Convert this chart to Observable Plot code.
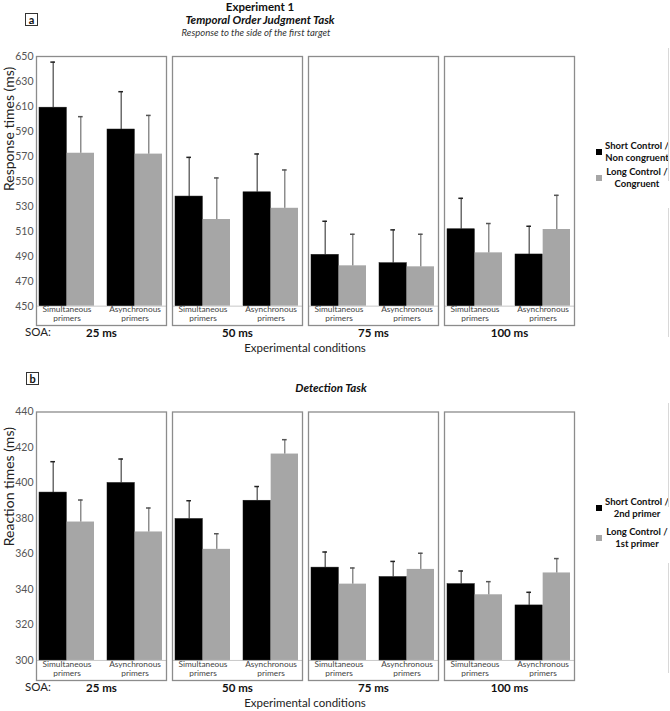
<!DOCTYPE html>
<html><head><meta charset="utf-8">
<script src="https://cdn.jsdelivr.net/npm/d3@7"></script>
<script src="https://cdn.jsdelivr.net/npm/@observablehq/plot@0.6"></script>
<style>
body{margin:0;background:#fff;font-family:Lato,"Open Sans",sans-serif;}
#root{position:relative;width:670px;height:711px;overflow:hidden;background:#fff;}
.abs{position:absolute;white-space:nowrap;color:#111;line-height:1;}
.c{transform:translate(-50%,-50%);}
.box{position:absolute;border:1px solid #333;width:11px;height:11px;font-size:11px;line-height:11px;text-align:center;font-weight:bold;color:#111;}
.leg{position:absolute;font-size:9.5px;font-weight:bold;line-height:11.5px;text-align:center;color:#111;}
.sw{position:absolute;width:6px;height:6px;}
.vline{position:absolute;width:1px;background:#d8d8d8;left:668px;}
</style></head><body><div id="root"></div>
<script>
const soas = ["25 ms", "50 ms", "75 ms", "100 ms"];
const primers = ["Simultaneous", "Asynchronous"];
const primerLine1 = ["Simultaneous", "Asynchronous"];
const primerLine2 = ["primers", "primers"];

// Panel a – Temporal Order Judgment (order: per SOA, simultaneous then asynchronous)
const tojShort   = [609.0, 591.5, 537.8, 541.2, 491.1, 484.4, 511.6, 491.4];
const tojShortSE = [36.5, 30.3, 31.4, 30.7, 26.9, 26.7, 24.8, 22.6];
const tojLong    = [572.5, 571.8, 519.4, 528.4, 482.3, 481.5, 492.7, 511.4];
const tojLongSE  = [29.3, 31.0, 33.3, 30.7, 25.3, 26.1, 23.5, 27.4];
const tojTicks = [450, 470, 490, 510, 530, 550, 570, 590, 610, 630, 650];

// Panel b – Detection
const detShort   = [394.6, 400.0, 379.7, 390.0, 352.3, 347.0, 343.0, 331.0];
const detShortSE = [17.4, 13.5, 10.3, 8.0, 8.8, 8.8, 7.4, 7.4];
const detLong    = [378.0, 372.4, 362.6, 416.3, 343.0, 351.3, 337.0, 349.3];
const detLongSE  = [12.4, 13.5, 8.8, 8.1, 9.1, 9.1, 7.4, 8.1];
const detTicks = [300, 320, 340, 360, 380, 400, 420, 440];

const BLACK = "#000000", GRAY = "#a6a6a6";

function rowsOf(means, ses) {
  return means.map((m, i) => ({soa: soas[Math.floor(i / 2)], primer: primers[i % 2], mean: m, top: m + ses[i]}));
}

function panel(o) {
  const sRows = rowsOf(o.short, o.shortSE);
  const lRows = rowsOf(o.long, o.longSE);
  const W = 670, mL = 36, mR = 95;
  const fxPadIn = 0.042, xPadIn = 0.19, xPadOut = 0.05;
  const facetW = (W - mL - mR) / (soas.length - fxPadIn) * (1 - fxPadIn);
  const bw = facetW / (2 - xPadIn + 2 * xPadOut) * (1 - xPadIn);
  const cap = 5;
  const base = o.ticks[0];
  const pos = {fx: "soa", x: "primer"};
  const lbl = {frameAnchor: "bottom", textAnchor: "middle", fontSize: 8.3, fill: "#444"};
  return Plot.plot({
    width: W, height: o.height,
    marginLeft: mL, marginRight: mR, marginTop: o.marginTop, marginBottom: 20,
    style: {fontFamily: "Lato, 'Open Sans', sans-serif", background: "transparent"},
    fx: {domain: soas, paddingInner: fxPadIn, paddingOuter: 0, label: null},
    x: {domain: primers, paddingInner: xPadIn, paddingOuter: xPadOut, axis: null},
    y: {domain: [o.yBottom, o.ticks[o.ticks.length - 1]], axis: null},
    marks: [
      Plot.ruleY([base], {stroke: "#c8c8c8", strokeWidth: 1}),
      Plot.barY(sRows, {...pos, y1: base, y2: "mean", fill: BLACK, stroke: "#111", strokeWidth: 0.5, insetRight: bw / 2}),
      Plot.barY(lRows, {...pos, y1: base, y2: "mean", fill: GRAY, insetLeft: bw / 2}),
      Plot.ruleX(sRows, {...pos, y1: "mean", y2: "top", dx: -bw / 4, stroke: "#222", strokeWidth: 1}),
      Plot.tickY(sRows, {...pos, y: "top", insetLeft: bw / 4 - cap / 2, insetRight: 3 * bw / 4 - cap / 2, stroke: "#222", strokeWidth: 1.5}),
      Plot.ruleX(lRows, {...pos, y1: "mean", y2: "top", dx: bw / 4, stroke: "#555", strokeWidth: 1}),
      Plot.tickY(lRows, {...pos, y: "top", insetLeft: 3 * bw / 4 - cap / 2, insetRight: bw / 4 - cap / 2, stroke: "#555", strokeWidth: 1.5}),
      Plot.frame({stroke: "#8c8c8c", strokeWidth: 1.3}),
      Plot.text(primerLine1, {x: (d, i) => primers[i], text: d => d, ...lbl, dy: -13.8}),
      Plot.text(primerLine2, {x: (d, i) => primers[i], text: d => d, ...lbl, dy: -4.6}),
      Plot.axisY({ticks: o.ticks, tickSize: 0, tickPadding: 3, fontSize: 10.5, fill: "#555", label: null}),
      Plot.text([o.yLabel], {fx: () => soas[0], text: d => d, frameAnchor: "left", rotate: -90, dx: -27, fontSize: 14, fill: "#222"}),
      Plot.axisFx({anchor: "bottom", tickSize: 0, tickPadding: 3, fontSize: 11.5, fontWeight: "bold", fill: "#111", label: null})
    ]
  });
}

const root = document.getElementById("root");
function addText(html, cx, cy, style) {
  const d = document.createElement("div");
  d.className = "abs c";
  d.style.left = cx + "px"; d.style.top = cy + "px";
  Object.assign(d.style, style || {});
  d.innerHTML = html;
  root.appendChild(d);
  return d;
}
function addBox(ch, left, top) {
  const d = document.createElement("div");
  d.className = "box"; d.style.left = left + "px"; d.style.top = top + "px";
  d.textContent = ch; root.appendChild(d);
}
function addLegend(items) {
  items.forEach((it) => {
    const sw = document.createElement("div");
    sw.className = "sw"; sw.style.background = it.color;
    sw.style.left = "596px"; sw.style.top = (it.cy - 3) + "px";
    root.appendChild(sw);
    const t = document.createElement("div");
    t.className = "leg"; t.style.left = "605px"; t.style.width = "64px";
    t.style.top = (it.cy - 12) + "px";
    t.innerHTML = it.label;
    root.appendChild(t);
  });
}
function addVLine(top, bottom) {
  const d = document.createElement("div");
  d.className = "vline"; d.style.top = top + "px"; d.style.height = (bottom - top) + "px";
  root.appendChild(d);
}

// ---- Panel a ----
const svgA = panel({short: tojShort, shortSE: tojShortSE, long: tojLong, longSE: tojLongSE,
  ticks: tojTicks, yBottom: 434.5, yLabel: "Response times (ms)", marginTop: 56, height: 345});
svgA.style.position = "absolute"; svgA.style.left = "0px"; svgA.style.top = "0px";
root.appendChild(svgA);

addBox("a", 25, 13);
addText("Experiment 1", 260, 6.5, {fontSize: "11.5px", fontWeight: "bold"});
addText("Temporal Order Judgment Task", 260, 20, {fontSize: "11.5px", fontWeight: "bold", fontStyle: "italic"});
addText("Response to the side of the first target", 256, 32.5, {fontSize: "9.5px", fontStyle: "italic", color: "#333"});
addText("SOA:", 38, 332, {fontSize: "11.5px", color: "#222"});
addText("Experimental conditions", 305, 348, {fontSize: "11.5px", color: "#222"});
addLegend([
  {color: BLACK, label: "Short Control /<br>Non congruent", cy: 152},
  {color: GRAY, label: "Long Control /<br>Congruent", cy: 178}
]);
addVLine(48, 181); addVLine(208, 337);

// ---- Panel b ----
const svgB = panel({short: detShort, shortSE: detShortSE, long: detLong, longSE: detLongSE,
  ticks: detTicks, yBottom: 288.7, yLabel: "Reaction times (ms)", marginTop: 51.5, height: 340});
svgB.style.position = "absolute"; svgB.style.left = "0px"; svgB.style.top = "360px";
root.appendChild(svgB);

addBox("b", 26, 372);
addText("Detection Task", 331, 388, {fontSize: "11.5px", fontWeight: "bold", fontStyle: "italic"});
addText("SOA:", 38, 687, {fontSize: "11.5px", color: "#222"});
addText("Experimental conditions", 305, 703, {fontSize: "11.5px", color: "#222"});
addLegend([
  {color: BLACK, label: "Short Control /<br>2nd primer", cy: 508},
  {color: GRAY, label: "Long Control /<br>1st primer", cy: 538}
]);
addVLine(403, 507); addVLine(563, 673);
</script></body></html>
